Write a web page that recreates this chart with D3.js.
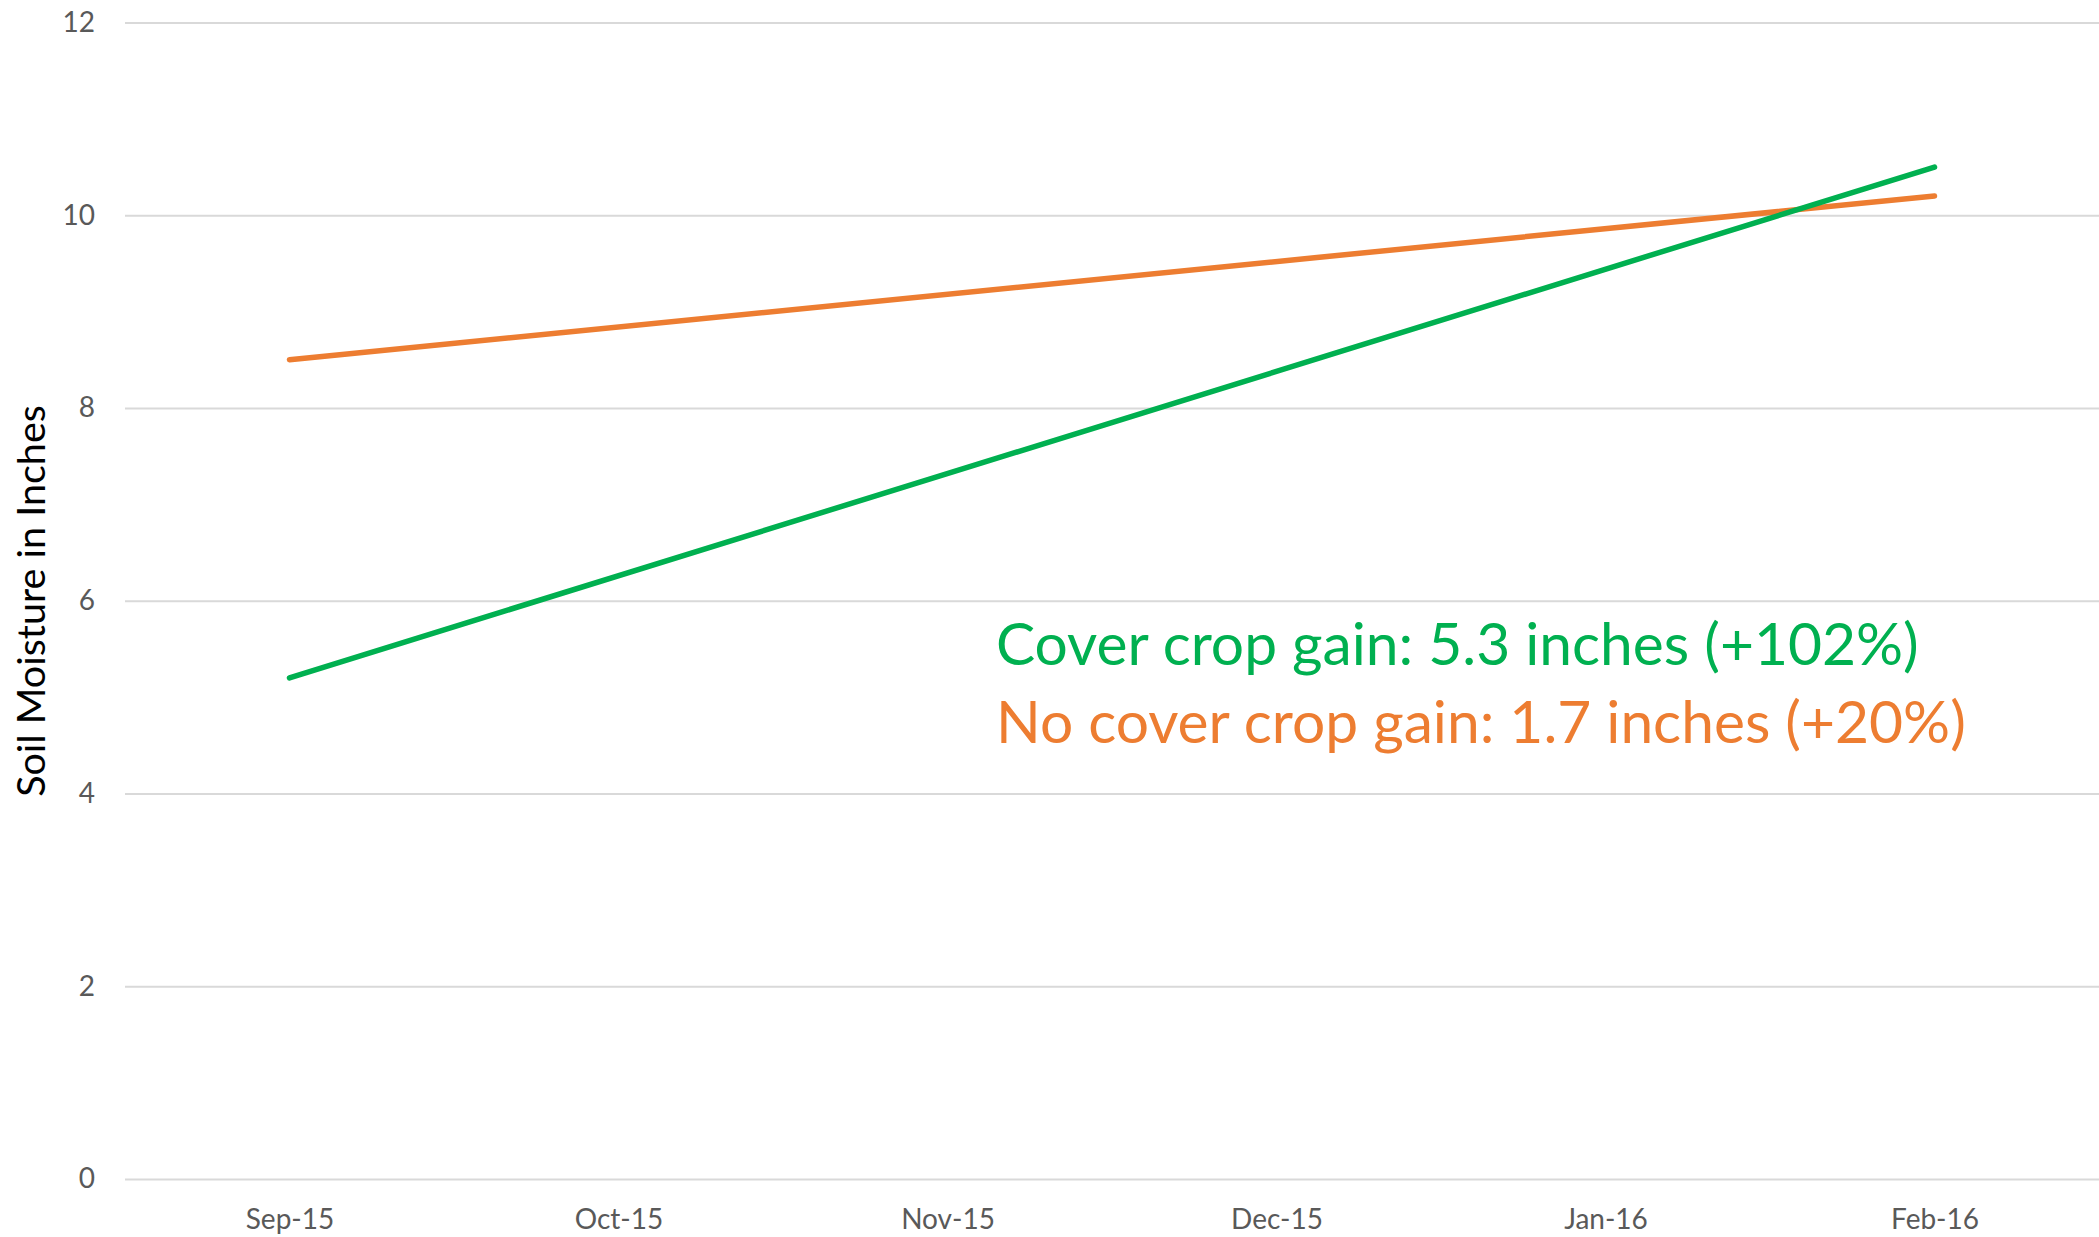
<!DOCTYPE html>
<html>
<head>
<meta charset="utf-8">
<script src="https://cdn.jsdelivr.net/npm/d3@7"></script>
<style>
  body { margin: 0; background: #fff; }
  text { font-family: Lato, "Open Sans", sans-serif; }
</style>
</head>
<body>
<svg id="chart" width="2099" height="1237"></svg>
<script>
// months on the category axis
const months = ["Sep-15", "Oct-15", "Nov-15", "Dec-15", "Jan-16", "Feb-16"]
// measured only at start and end, middle months empty
const coverCrop = [5.2, null, null, null, null, 10.5]
const noCoverCrop = [8.5, null, null, null, null, 10.2]
const yTicks = [0, 2, 4, 6, 8, 10, 12]
const notes = ["Cover crop gain: 5.3 inches (+102%)", "No cover crop gain: 1.7 inches (+20%)"]

const svg = d3.select("#chart")
const width = 2099, height = 1237
const plotLeft = 125, plotTop = 22.5, plotBottom = 1179

const x = d3.scalePoint()
    .domain(months)
    .range([plotLeft, width])
    .padding(0.5)

const y = d3.scaleLinear()
    .domain([0, 12])
    .range([plotBottom, plotTop])

// gridlines + y labels
const yAxis = svg.append("g")
    .attr("transform", `translate(${plotLeft},0)`)
    .call(d3.axisLeft(y).tickValues(yTicks).tickSize(-(width - plotLeft)).tickPadding(30))
yAxis.select(".domain").remove()
yAxis.selectAll(".tick line").attr("stroke", "#d9d9d9").attr("stroke-width", 2)
yAxis.selectAll(".tick text")
    .attr("fill", "#595959")
    .style("font-size", "28px")

// x labels
const xAxis = svg.append("g")
    .attr("transform", `translate(0,${plotBottom})`)
    .call(d3.axisBottom(x).tickSize(0).tickPadding(30))
xAxis.select(".domain").remove()
xAxis.selectAll(".tick text")
    .attr("fill", "#595959")
    .style("font-size", "28px")

// y title
svg.append("text")
    .attr("transform", `translate(29,601) rotate(-90)`)
    .attr("text-anchor", "middle")
    .attr("dominant-baseline", "central")
    .attr("fill", "#000")
    .style("font-size", "39.5px")
    .text("Soil Moisture in Inches")

const line = d3.line()
    .x(d => x(d.m))
    .y(d => y(d.v))

function drawSeries(vals, color) {
    // connect points across the empty months
    const pts = months.map((m, i) => ({m: m, v: vals[i]})).filter(d => d.v !== null)
    svg.append("path")
        .datum(pts)
        .attr("d", line)
        .attr("fill", "none")
        .attr("stroke", color)
        .attr("stroke-width", 5.5)
        .attr("stroke-linecap", "round")
}
drawSeries(noCoverCrop, "#ed7d31")
drawSeries(coverCrop, "#00b050")

// annotation
const noteColors = ["#00b050", "#ed7d31"]
svg.selectAll(".note")
    .data(notes)
    .enter()
    .append("text")
    .attr("class", "note")
    .attr("x", 996)
    .attr("y", (d, i) => 665 + i * 78)
    .attr("fill", (d, i) => noteColors[i])
    .style("font-size", "58.7px")
    .text(d => d)
</script>
</body>
</html>
